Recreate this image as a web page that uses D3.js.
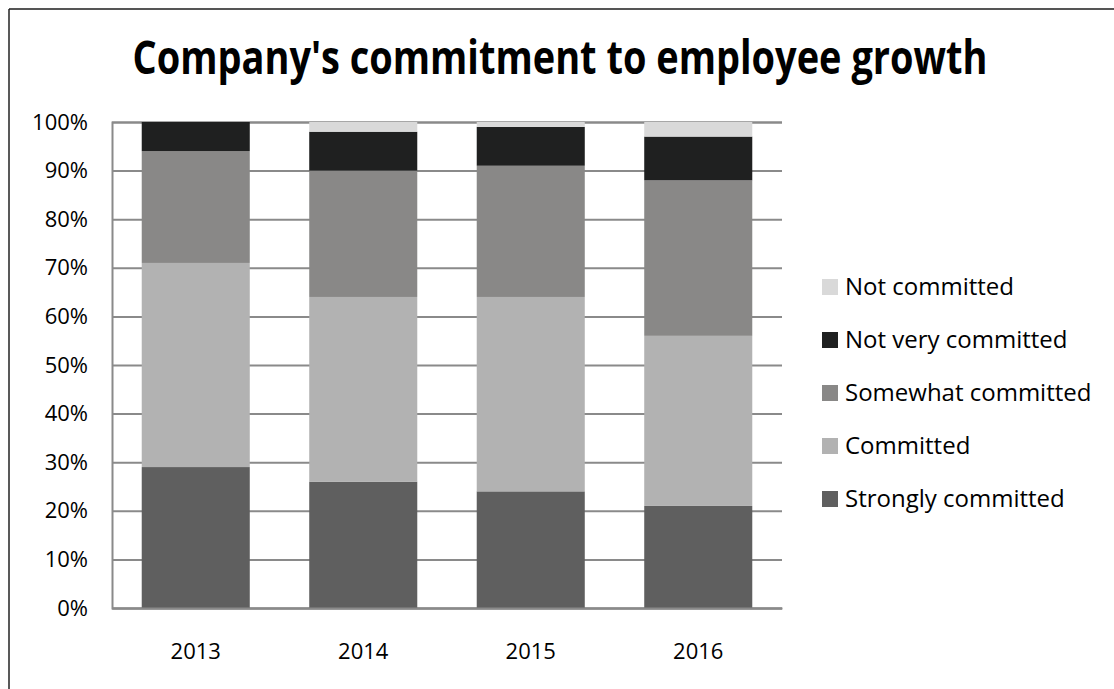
<!DOCTYPE html>
<html>
<head>
<meta charset="utf-8">
<script src="https://cdn.jsdelivr.net/npm/d3@7"></script>
<style>
  html, body { margin: 0; padding: 0; background: #fff; }
  svg { display: block; font-family: "Open Sans", "Liberation Sans", sans-serif; }
</style>
</head>
<body>
<svg id="chart" width="1114" height="689"></svg>
<script>
// Survey results by year (percent of respondents)
const years = ["2013", "2014", "2015", "2016"];
const seriesNames = ["Strongly committed", "Committed", "Somewhat committed", "Not very committed", "Not committed"];
const stronglyCommitted = [29, 26, 24, 21];
const committed         = [42, 38, 40, 35];
const somewhatCommitted = [23, 26, 27, 32];
const notVeryCommitted  = [6, 8, 8, 9];
const notCommitted      = [0, 2, 1, 3];
const yTicks = [0, 10, 20, 30, 40, 50, 60, 70, 80, 90, 100];
const seriesColors = ["#5f5f5f", "#b2b2b2", "#898887", "#1f2020", "#d9d9d9"];

const seriesValues = [stronglyCommitted, committed, somewhatCommitted, notVeryCommitted, notCommitted];
const rows = years.map((y, i) => {
  const r = { year: y };
  seriesNames.forEach((s, k) => { r[s] = seriesValues[k][i]; });
  return r;
});

const svg = d3.select("#chart");
const W = 1114, H = 689;
const plot = { left: 112, right: 782, top: 122, bottom: 608 };

// Outer frame: top and left edges
svg.append("line").attr("x1", 9).attr("x2", W).attr("y1", 9).attr("y2", 9)
  .attr("stroke", "#555").attr("stroke-width", 2);
svg.append("line").attr("x1", 9).attr("x2", 9).attr("y1", 9).attr("y2", H)
  .attr("stroke", "#222").attr("stroke-width", 1.5);

// Title, condensed horizontally to a fixed width
const titleWidth = 855, titleCx = 560;
const title = svg.append("text")
  .attr("x", 0).attr("y", 0)
  .attr("text-anchor", "middle")
  .attr("font-weight", 700)
  .attr("font-size", 47)
  .attr("fill", "#000")
  .text("Company's commitment to employee growth");
const natural = title.node().getComputedTextLength();
title.attr("transform", `translate(${titleCx},74) scale(${titleWidth / natural},1)`);

const x = d3.scaleBand().domain(years).range([plot.left, plot.right]).paddingInner(0.355).paddingOuter(0.1775);
const y = d3.scaleLinear().domain([0, 100]).range([plot.bottom, plot.top]);

// Gridlines and y labels
const yAxis = d3.axisLeft(y).tickValues(yTicks).tickSize(-(plot.right - plot.left))
  .tickFormat(d => d + "%").tickPadding(24);
const gy = svg.append("g").attr("transform", `translate(${plot.left},0)`).call(yAxis);
gy.select(".domain").attr("stroke", "#8a8a8a").attr("stroke-width", 2);
gy.selectAll(".tick line").attr("stroke", "#8a8a8a").attr("stroke-width", 2);
gy.selectAll(".tick text").attr("font-size", 22).attr("fill", "#000")
  .attr("font-family", "'Open Sans', sans-serif");

// Stacked bars
const stack = d3.stack().keys(seriesNames)(rows);
svg.append("g").selectAll("g")
  .data(stack).join("g")
  .attr("fill", (d, i) => seriesColors[i])
  .selectAll("rect")
  .data(d => d).join("rect")
  .attr("x", d => x(d.data.year))
  .attr("width", x.bandwidth())
  .attr("y", d => y(d[1]))
  .attr("height", d => y(d[0]) - y(d[1]));

// x axis baseline and year labels
const xAxis = d3.axisBottom(x).tickSize(0).tickPadding(35);
const gx = svg.append("g").attr("transform", `translate(0,${plot.bottom})`).call(xAxis);
gx.select(".domain").attr("stroke", "#8a8a8a").attr("stroke-width", 2);
gx.selectAll(".tick text").attr("font-size", 22).attr("fill", "#000")
  .attr("font-family", "'Open Sans', sans-serif");

// Legend (top entry is the top of the stack)
const legendOrder = seriesNames.map((s, i) => ({ name: s, color: seriesColors[i] })).reverse();
const lg = svg.append("g");
const item = lg.selectAll("g").data(legendOrder).join("g")
  .attr("transform", (d, i) => `translate(822,${287 + i * 53})`);
item.append("rect").attr("x", 0).attr("y", -8).attr("width", 16).attr("height", 16)
  .attr("fill", d => d.color);
item.append("text").attr("x", 23).attr("y", 0).attr("dy", "0.35em")
  .attr("font-size", 24).attr("fill", "#000")
  .text(d => d.name);
</script>
</body>
</html>
